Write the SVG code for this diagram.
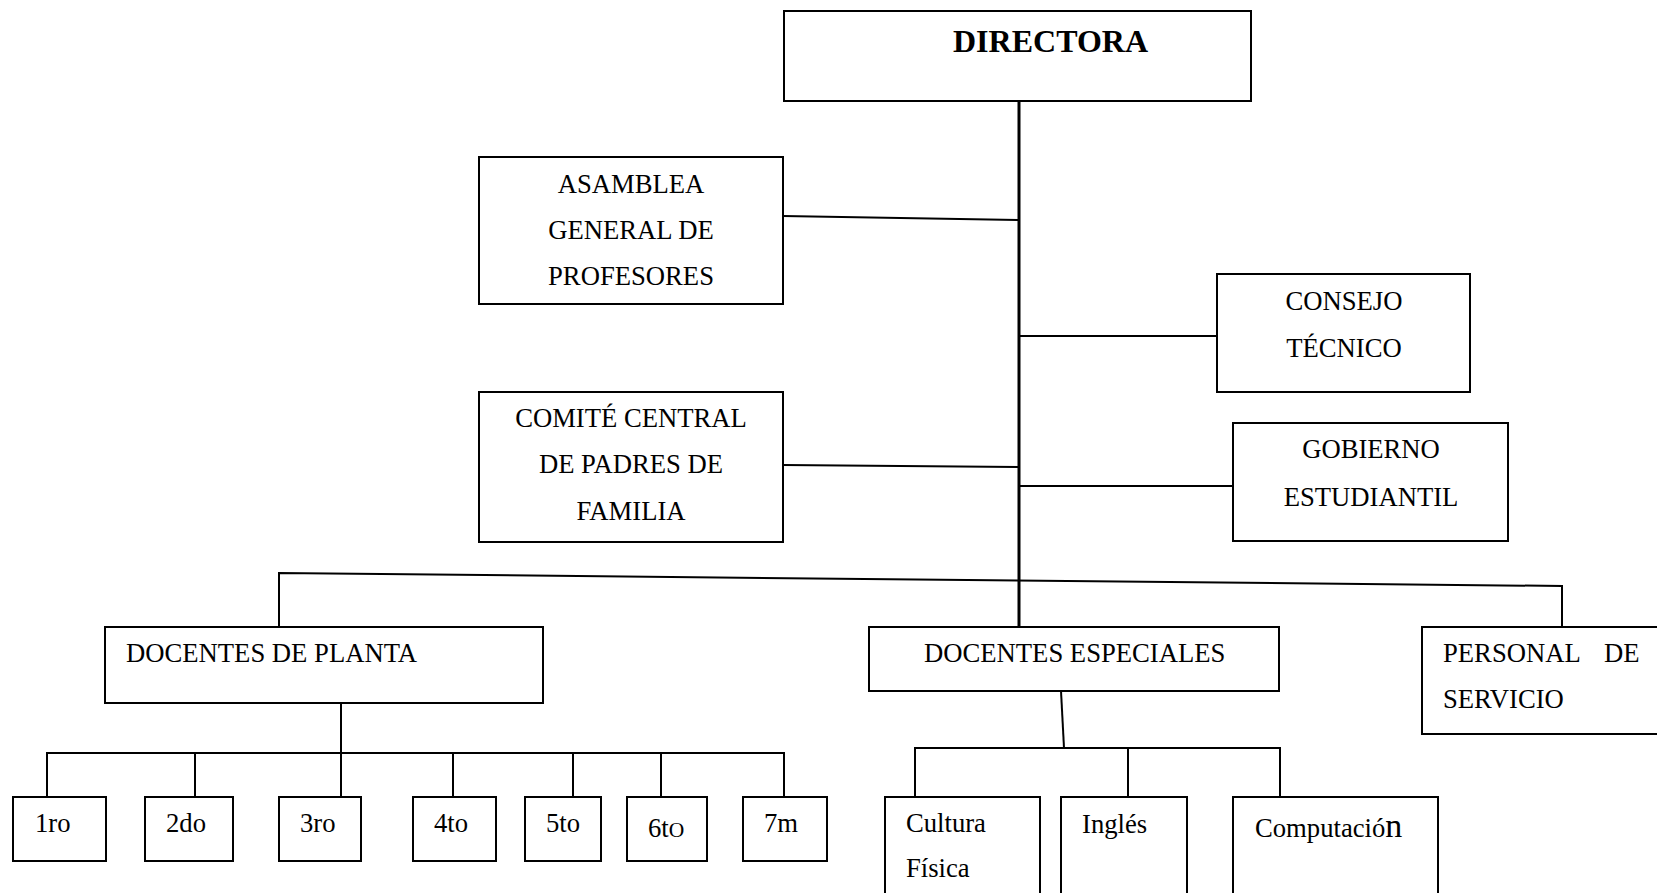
<svg xmlns="http://www.w3.org/2000/svg" width="1657" height="893" viewBox="0 0 1657 893">
<style>
  .box { fill: #ffffff; stroke: #000000; stroke-width: 2; }
  .ln { fill: none; stroke: #000000; stroke-width: 2; }
  .main { fill: none; stroke: #000000; stroke-width: 3; }
  .t { font-family: "Liberation Serif", "Times New Roman", serif; font-size: 26.67px; fill: #000000; }
  .c { text-anchor: middle; }
  .b { font-weight: bold; font-size: 32px; }
</style>
<rect x="0" y="0" width="1657" height="893" fill="#ffffff"/>

<g id="connectors">
  <line class="main" x1="1019" y1="101" x2="1019" y2="627"/>
  <line class="ln" x1="783" y1="216" x2="1019" y2="220"/>
  <line class="ln" x1="1019" y1="336" x2="1217" y2="336"/>
  <line class="ln" x1="783" y1="465" x2="1019" y2="467"/>
  <line class="ln" x1="1019" y1="486" x2="1233" y2="486"/>
  <polyline class="ln" points="279,627 279,573 1562,586 1562,627"/>
  <line class="ln" x1="341" y1="703" x2="341" y2="753"/>
  <line class="ln" x1="46" y1="753" x2="785" y2="753"/>
  <line class="ln" x1="47" y1="753" x2="47" y2="797"/>
  <line class="ln" x1="195" y1="753" x2="195" y2="797"/>
  <line class="ln" x1="341" y1="753" x2="341" y2="797"/>
  <line class="ln" x1="453" y1="753" x2="453" y2="797"/>
  <line class="ln" x1="573" y1="753" x2="573" y2="797"/>
  <line class="ln" x1="661" y1="753" x2="661" y2="797"/>
  <line class="ln" x1="784" y1="753" x2="784" y2="797"/>
  <line class="ln" x1="1061" y1="691" x2="1064" y2="748"/>
  <polyline class="ln" points="915,797 915,748 1280,748 1280,797"/>
  <line class="ln" x1="1128" y1="748" x2="1128" y2="797"/>
</g>

<g id="directora">
  <rect class="box" x="784" y="11" width="467" height="90"/>
  <text class="t b" x="953" y="52">DIRECTORA</text>
</g>

<g id="asamblea">
  <rect class="box" x="479" y="157" width="304" height="147"/>
  <text class="t c" x="631" y="193">ASAMBLEA</text>
  <text class="t c" x="631" y="239">GENERAL DE</text>
  <text class="t c" x="631" y="285">PROFESORES</text>
</g>

<g id="consejo">
  <rect class="box" x="1217" y="274" width="253" height="118"/>
  <text class="t c" x="1344" y="310">CONSEJO</text>
  <text class="t c" x="1344" y="357">TÉCNICO</text>
</g>

<g id="comite">
  <rect class="box" x="479" y="392" width="304" height="150"/>
  <text class="t c" x="631" y="427">COMITÉ CENTRAL</text>
  <text class="t c" x="631" y="473">DE PADRES DE</text>
  <text class="t c" x="631" y="520">FAMILIA</text>
</g>

<g id="gobierno">
  <rect class="box" x="1233" y="423" width="275" height="118"/>
  <text class="t c" x="1371" y="458">GOBIERNO</text>
  <text class="t c" x="1371" y="506">ESTUDIANTIL</text>
</g>

<g id="docentes-planta">
  <rect class="box" x="105" y="627" width="438" height="76"/>
  <text class="t" x="126" y="662">DOCENTES DE PLANTA</text>
</g>

<g id="docentes-especiales">
  <rect class="box" x="869" y="627" width="410" height="64"/>
  <text class="t" x="924" y="662">DOCENTES ESPECIALES</text>
</g>

<g id="personal-servicio">
  <rect class="box" x="1422" y="627" width="245" height="107"/>
  <text class="t" x="1443" y="662">PERSONAL</text>
  <text class="t" x="1604" y="662">DE</text>
  <text class="t" x="1443" y="708">SERVICIO</text>
</g>

<g id="g1ro">
  <rect class="box" x="13" y="797" width="93" height="64"/>
  <text class="t" x="35" y="832">1ro</text>
</g>
<g id="g2do">
  <rect class="box" x="145" y="797" width="88" height="64"/>
  <text class="t" x="166" y="832">2do</text>
</g>
<g id="g3ro">
  <rect class="box" x="279" y="797" width="82" height="64"/>
  <text class="t" x="300" y="832">3ro</text>
</g>
<g id="g4to">
  <rect class="box" x="413" y="797" width="83" height="64"/>
  <text class="t" x="434" y="832">4to</text>
</g>
<g id="g5to">
  <rect class="box" x="525" y="797" width="76" height="64"/>
  <text class="t" x="546" y="832">5to</text>
</g>
<g id="g6to">
  <rect class="box" x="627" y="797" width="80" height="64"/>
  <text class="t" x="648" y="837">6t<tspan font-size="21.5px">O</tspan></text>
</g>
<g id="g7m">
  <rect class="box" x="743" y="797" width="84" height="64"/>
  <text class="t" x="764" y="832">7m</text>
</g>

<g id="cultura-fisica">
  <rect class="box" x="885" y="797" width="155" height="110"/>
  <text class="t" x="906" y="832">Cultura</text>
  <text class="t" x="906" y="877">Física</text>
</g>
<g id="ingles">
  <rect class="box" x="1061" y="797" width="126" height="110"/>
  <text class="t" x="1082" y="833">Inglés</text>
</g>
<g id="computacion">
  <rect class="box" x="1233" y="797" width="205" height="110"/>
  <text class="t" x="1255" y="837">Computació<tspan font-size="34px">n</tspan></text>
</g>
</svg>
